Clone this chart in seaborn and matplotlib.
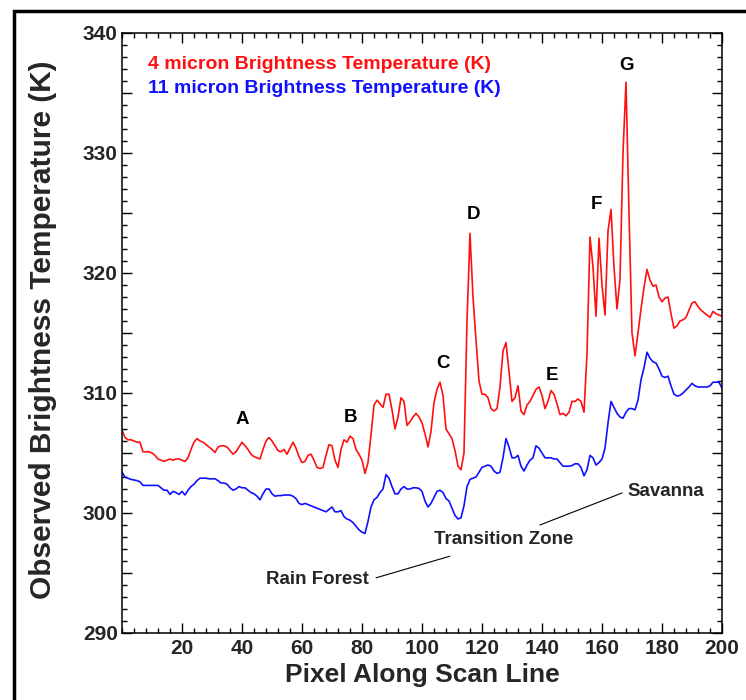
import matplotlib
matplotlib.use("Agg")
import matplotlib.pyplot as plt
import seaborn as sns
import pandas as pd
from matplotlib.ticker import FixedLocator, MultipleLocator, FuncFormatter
from matplotlib.patches import Rectangle

pixel = list(range(0, 201))

temp_4um = [
    306.9, 306.3, 306.1, 306.1, 306.0, 305.9, 305.9, 305.1, 305.1, 305.1,
    305.0, 304.8, 304.5, 304.4, 304.3, 304.4, 304.5, 304.4, 304.5, 304.5,
    304.4, 304.3, 304.6, 305.3, 305.9, 306.2, 306.0, 305.9, 305.7, 305.5,
    305.3, 305.05, 305.5, 305.6, 305.6, 305.5, 305.2, 304.9, 305.1, 305.5,
    305.9, 305.6, 305.3, 304.9, 304.7, 304.6, 304.5, 305.3, 306.0, 306.3,
    306.0, 305.6, 305.2, 305.1, 305.3, 304.9, 305.4, 305.9, 305.4, 304.7,
    304.2, 304.3, 304.8, 304.9, 304.4, 303.8, 303.7, 303.8, 304.8, 305.7,
    305.6, 304.4, 303.8, 305.3, 306.1, 305.9, 306.4, 306.2, 305.3, 304.9,
    304.4, 303.3, 304.2, 306.5, 309.0, 309.4, 309.1, 308.8, 309.9, 309.9,
    308.6, 307.0, 308.0, 309.6, 309.3, 307.3, 307.6, 308.0, 308.3, 308.0,
    307.5, 306.6, 305.5, 306.8, 309.2, 310.3, 310.9, 309.8, 307.0, 306.6,
    306.2, 305.2, 303.9, 303.6, 305.0, 316.0, 323.3, 318.0, 314.4, 311.0,
    309.9, 309.9, 309.6, 308.7, 308.5, 308.7, 310.5, 313.5, 314.2, 311.8,
    309.3, 309.6, 310.6, 308.5, 308.2, 309.0, 309.3, 309.8, 310.3, 310.5,
    309.8, 308.7, 309.3, 310.2, 309.9, 309.1, 308.2, 308.3, 308.1, 308.4,
    309.3, 309.3, 309.5, 309.3, 308.4, 313.3, 323.0, 320.5, 316.4, 322.9,
    319.0, 316.5, 323.5, 325.3, 320.5, 317.0, 319.5, 330.0, 335.9, 325.0,
    315.0, 313.1, 315.0, 317.0, 318.8, 320.3, 319.4, 318.9, 319.0, 318.0,
    317.6, 317.9, 318.0, 316.6, 315.4, 315.6, 316.0, 316.1, 316.3, 316.9,
    317.5, 317.6, 317.2, 316.9, 316.7, 316.5, 316.3, 316.8, 316.6, 316.5,
    316.4,
]

temp_11um = [
    303.4, 303.0, 302.9, 302.8, 302.75, 302.7, 302.6, 302.3, 302.3, 302.3,
    302.3, 302.3, 302.3, 302.1, 301.9, 301.9, 301.55, 301.8, 301.7, 301.55,
    301.8, 301.5, 301.9, 302.2, 302.4, 302.7, 302.9, 302.9, 302.9, 302.85,
    302.85, 302.85, 302.7, 302.5, 302.5, 302.4, 302.1, 301.9, 302.0, 302.2,
    302.1, 302.1, 301.9, 301.7, 301.6, 301.4, 301.1, 301.6, 302.0, 302.0,
    301.6, 301.4, 301.45, 301.45, 301.5, 301.5, 301.5, 301.4, 301.2, 300.8,
    300.7, 300.8, 300.7, 300.6, 300.5, 300.4, 300.3, 300.2, 300.1, 300.3,
    300.5, 300.1, 300.1, 300.2, 299.7, 299.5, 299.4, 299.2, 298.9, 298.6,
    298.4, 298.3, 299.3, 300.5, 301.1, 301.3, 301.7, 302.0, 303.2, 302.9,
    302.2, 301.6, 301.6, 302.0, 302.2, 302.0, 302.0, 302.1, 302.1, 302.05,
    301.8, 301.0, 300.5, 300.8, 301.3, 301.8, 301.9, 301.7, 301.2, 301.0,
    300.4, 299.8, 299.5, 299.6, 300.6, 302.2, 302.8, 302.9, 303.0, 303.4,
    303.8, 303.9, 304.0, 303.9, 303.5, 303.3, 303.4, 304.6, 306.2, 305.5,
    304.6, 304.6, 304.8, 303.9, 303.5, 304.0, 304.4, 304.6, 305.6, 305.4,
    305.0, 304.6, 304.6, 304.6, 304.5, 304.5, 304.2, 303.9, 303.9, 303.9,
    303.95, 304.1, 304.1, 303.8, 303.1, 303.6, 304.8, 304.6, 304.0, 304.2,
    304.5, 305.4, 307.5, 309.3, 308.8, 308.3, 308.0, 307.9, 308.4, 308.7,
    308.7, 308.6, 309.4, 311.1, 312.1, 313.4, 312.9, 312.6, 312.5, 312.0,
    311.4, 311.3, 311.4, 310.6, 309.9, 309.75, 309.8, 310.0, 310.25, 310.5,
    310.8, 310.6, 310.5, 310.5, 310.5, 310.5, 310.6, 310.9, 310.9, 310.9,
    310.4,
]

peak_labels = ["A", "B", "C", "D", "E", "F", "G"]
peak_x = [40.2, 76.3, 106.9, 117.3, 143.3, 158.1, 168.1]
peak_y = [307.8, 308.0, 312.5, 324.9, 311.5, 325.7, 337.3]

x_ticks = [20, 40, 60, 80, 100, 120, 140, 160, 180, 200]
y_ticks = [290, 295, 300, 305, 310, 315, 320, 325, 330, 335, 340]

sns.set_style("ticks")
plt.rcParams["font.family"] = ["Liberation Sans", "DejaVu Sans"]
plt.rcParams["font.weight"] = "bold"

df4 = pd.DataFrame({"pixel": pixel, "temp": temp_4um})
df11 = pd.DataFrame({"pixel": pixel, "temp": temp_11um})

fig = plt.figure(figsize=(7.46, 7.0), dpi=100)
ax = fig.add_axes([122 / 746, 1 - 633 / 700, 600 / 746, 600 / 700])

sns.lineplot(data=df4, x="pixel", y="temp", ax=ax, color="#ff1010", linewidth=1.2)
sns.lineplot(data=df11, x="pixel", y="temp", ax=ax, color="#1010ff", linewidth=1.2)

ax.set_xlim(0, 200)
ax.set_ylim(290, 340)
ax.xaxis.set_major_locator(FixedLocator(x_ticks))
ax.xaxis.set_minor_locator(MultipleLocator(4))
ax.yaxis.set_major_locator(FixedLocator(y_ticks))
ax.yaxis.set_minor_locator(MultipleLocator(1))
ax.yaxis.set_major_formatter(FuncFormatter(lambda v, p: f"{int(v)}" if int(round(v)) % 10 == 0 else ""))
ax.tick_params(which="both", direction="in", top=True, right=True, color="black")
ax.tick_params(which="major", length=7, width=1.0, labelsize=15, pad=4)
ax.tick_params(which="minor", length=3.5, width=1.0)
ax.tick_params(axis="y", which="major", pad=3)
for lab in ax.get_xticklabels() + ax.get_yticklabels():
    lab.set_fontweight("bold")
for s in ax.spines.values():
    s.set_linewidth(1.1)
    s.set_color("black")

ax.set_xlabel("Pixel Along Scan Line", fontsize=19, fontweight="bold")
ax.set_ylabel("Observed Brightness Temperature (K)", fontsize=21.5, fontweight="bold")
ax.xaxis.set_label_coords(0.5, -0.05)
ax.yaxis.set_label_coords(-0.108, 0.505)

ax.text(0.043, 0.948, "4 micron Brightness Temperature (K)", transform=ax.transAxes,
        color="#ff1010", fontsize=14, fontweight="bold", va="center", ha="left")
ax.text(0.043, 0.907, "11 micron Brightness Temperature (K)", transform=ax.transAxes,
        color="#1010ff", fontsize=14, fontweight="bold", va="center", ha="left")

for lab, px, py in zip(peak_labels, peak_x, peak_y):
    ax.text(px, py, lab, fontsize=13.5, fontweight="bold", ha="center", va="center", color="black")

ax.text(65.3, 294.5, "Rain Forest", fontsize=13.5, fontweight="bold", ha="center", va="center")
ax.plot([84.7, 109.3], [294.6, 296.4], color="black", linewidth=0.8)
ax.text(127.3, 297.75, "Transition Zone", fontsize=13.5, fontweight="bold", ha="center", va="center")
ax.plot([139.3, 166.7], [299.0, 301.67], color="black", linewidth=0.8)
ax.text(181.4, 301.8, "Savanna", fontsize=13.5, fontweight="bold", ha="center", va="center")

fig.patches.append(Rectangle((14 / 746, -0.1), 1.2, 1.1 - 11 / 700, transform=fig.transFigure,
                             fill=False, edgecolor="black", linewidth=2.5, clip_on=False))

fig.savefig("out.png", dpi=100)
